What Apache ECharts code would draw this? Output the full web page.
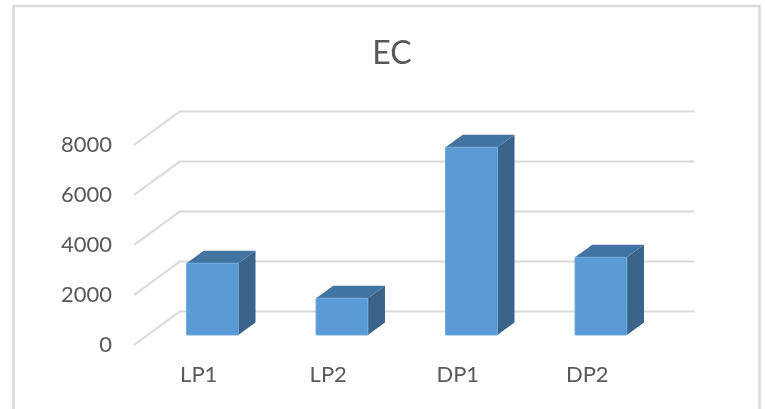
<!DOCTYPE html>
<html>
<head>
<meta charset="utf-8">
<script src="https://cdn.jsdelivr.net/npm/echarts@6/dist/echarts.min.js"></script>
<style>
  html, body { margin: 0; padding: 0; background: #ffffff; }
  #chart { width: 765px; height: 409px; }
</style>
</head>
<body>
<div id="chart"></div>
<script>
// Chart data
const categories = ['LP1', 'LP2', 'DP1', 'DP2'];
const values = [2870, 1470, 7510, 3110];
const yTicks = [0, 2000, 4000, 6000, 8000];

// Oblique projection: full floor depth vector (screen px), bar placement in depth
const DEPTH = [45.7, -33.4];
const BAR_FRONT = 0.3;   // fraction of floor depth where the bar's front face sits
const BAR_DEPTH = 0.375; // fraction of floor depth the bar occupies
const BAR_WIDTH = 0.4;   // fraction of category band

const FONT = 'Lato';
const TEXT = '#595959';

const chart = echarts.init(document.getElementById('chart'));

function renderGrid(params, api) {
  const cs = params.coordSys;
  const y = api.coord([0, api.value(1)])[1];
  const x0 = cs.x;
  const pts = [
    [x0, y],
    [x0 + DEPTH[0], y + DEPTH[1]],
    [cs.x + cs.width + DEPTH[0] - 3, y + DEPTH[1]]
  ];
  return {
    type: 'polyline',
    shape: { points: pts },
    style: { stroke: '#d9d9d9', lineWidth: 2, fill: null },
    silent: true
  };
}

function renderBar(params, api) {
  const base = api.coord([api.value(0), 0]);
  const top = api.coord([api.value(0), api.value(1)]);
  const band = api.size([1, 0])[0];
  const w = band * BAR_WIDTH;
  const ox = DEPTH[0] * BAR_FRONT, oy = DEPTH[1] * BAR_FRONT;
  const dx = DEPTH[0] * BAR_DEPTH, dy = DEPTH[1] * BAR_DEPTH;
  const x0 = base[0] - w / 2 + ox, x1 = x0 + w;
  const yb = base[1] + oy, yt = top[1] + oy;
  return {
    type: 'group',
    children: [
      {
        type: 'polygon',
        shape: { points: [[x1, yt], [x1 + dx, yt + dy], [x1 + dx, yb + dy], [x1, yb]] },
        style: { fill: '#3a6489' }
      },
      {
        type: 'polygon',
        shape: { points: [[x0, yt], [x0 + dx, yt + dy], [x1 + dx, yt + dy], [x1, yt]] },
        style: { fill: '#4274a2' }
      },
      {
        type: 'rect',
        shape: { x: x0, y: yt, width: w, height: yb - yt },
        style: { fill: '#5b9bd5', stroke: '#6ea7da', lineWidth: 1 }
      }
    ]
  };
}

chart.setOption({
  animation: false,
  backgroundColor: '#ffffff',
  title: {
    text: 'EC',
    left: 387,
    top: 33,
    textAlign: 'center',
    textStyle: { fontFamily: FONT, fontSize: 32, fontWeight: 'normal', color: TEXT }
  },
  graphic: [{
    type: 'rect',
    shape: { x: 13.5, y: 6, width: 746, height: 430 },
    style: { fill: null, stroke: '#d9d9d9', lineWidth: 2.5 },
    silent: true
  }],
  grid: { left: 134, top: 145, width: 518, height: 200, containLabel: false },
  xAxis: {
    type: 'category',
    data: categories,
    axisLine: { show: false },
    axisTick: { show: false },
    splitLine: { show: false },
    axisLabel: { color: TEXT, fontFamily: FONT, fontSize: 22, margin: 19 }
  },
  yAxis: {
    type: 'value',
    min: 0,
    max: 8000,
    interval: 2000,
    axisLine: { show: false },
    axisTick: { show: false },
    splitLine: { show: false },
    axisLabel: {
      color: TEXT, fontFamily: FONT, fontSize: 22, margin: 22,
      formatter: v => String(v)
    }
  },
  series: [
    {
      type: 'custom',
      renderItem: renderGrid,
      data: yTicks.map(v => [0, v]),
      z: 1,
      silent: true
    },
    {
      type: 'custom',
      renderItem: renderBar,
      data: categories.map((c, i) => [i, values[i]]),
      z: 2
    }
  ]
});
</script>
</body>
</html>
